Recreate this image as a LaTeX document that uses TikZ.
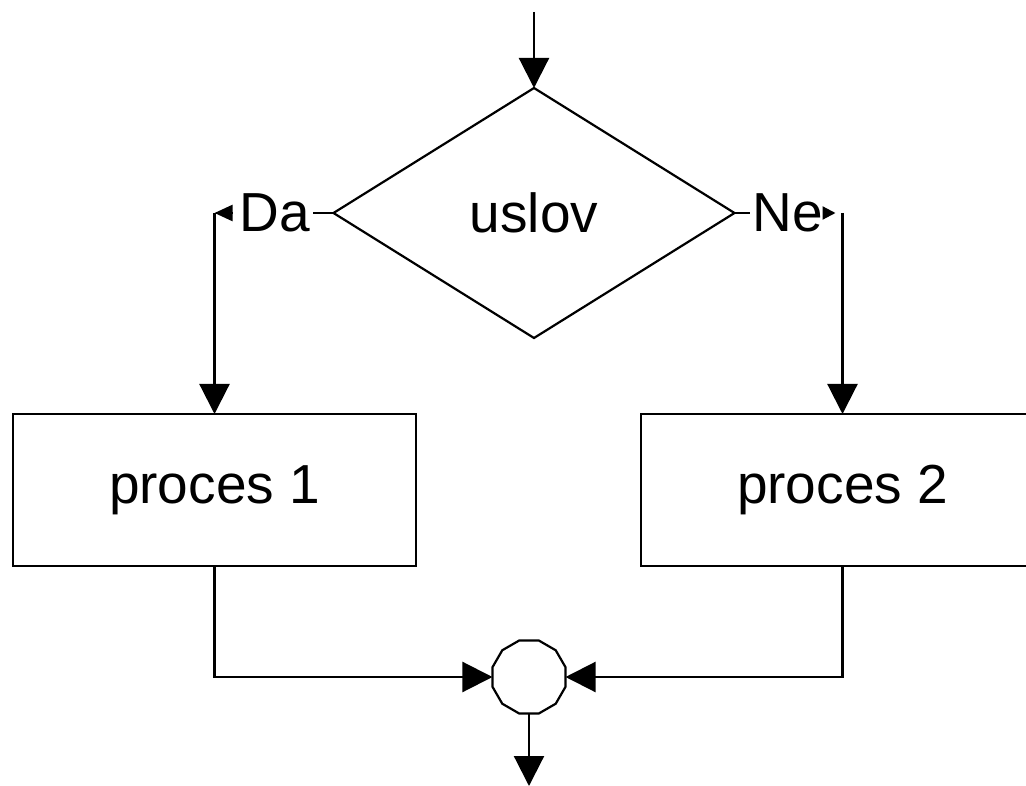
\documentclass[tikz,border=0pt]{standalone}
\usepackage{fontspec}
\setmainfont{Liberation Sans}
\usetikzlibrary{shapes.geometric,arrows.meta}
\begin{document}
\begin{tikzpicture}[x=1pt,y=-1pt,
  line width=2.2pt,
  every node/.style={font=\fontsize{55}{60}\selectfont,outer sep=0pt},
  decision/.style={draw,diamond,minimum width=401pt,minimum height=250pt,inner sep=0pt,shape aspect=1.6},
  procbox/.style={draw,rectangle,minimum width=403pt,minimum height=152pt,inner sep=0pt},
  joint/.style={draw,regular polygon,regular polygon sides=12,minimum size=75.6pt,inner sep=0pt},
  branchlabel/.style={inner sep=3pt},
  bigtip/.style={-{Triangle[length=30pt,width=30pt]}},
  smalltip/.style={-{Triangle[length=18pt,width=16pt]}},
  shorttip/.style={-{Triangle[length=13pt,width=13pt]}},
]
\useasboundingbox (0,0) rectangle (1026,786);
\clip (0,0) rectangle (1026,786);

% blocks
\node[decision] (cond) at (534,213) {uslov};
\node[procbox] (p1) at (214.5,490) {proces 1};
\node[procbox] (p2) at (842.5,490) {proces 2};
\node[joint] (join) at (529,677) {};

% branch labels
\node[branchlabel] (da) at (275,213) {Da};
\node[branchlabel] (ne) at (788,213) {Ne};

% free ends and corners of the branches
\coordinate (start) at (534,12);
\coordinate (end) at (529,786);
\coordinate (cornerL) at (214.5,213);
\coordinate (cornerR) at (842.5,213);

% connectors
\draw[bigtip] (start) -- (cond.north);
\draw (cond.west) -- (da);
\draw[smalltip,shorten <=4pt] (da) -- (cornerL);
\draw (cond.east) -- (ne);
\draw[shorttip,shorten >=7pt] (ne) -- (cornerR);
\draw[bigtip] (cornerL) -- (p1.north);
\draw[bigtip] (cornerR) -- (p2.north);
\draw[bigtip] (p1.south) |- (join.west);
\draw[bigtip] (p2.south) |- (join.east);
\draw[bigtip] (join.south) -- (end);
\end{tikzpicture}
\end{document}
